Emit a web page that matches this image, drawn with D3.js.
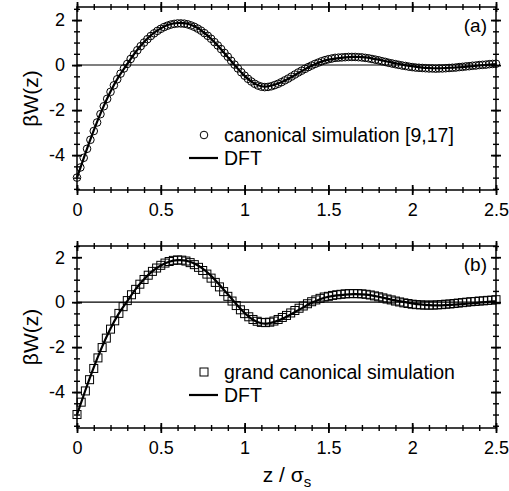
<!DOCTYPE html>
<html>
<head>
<meta charset="utf-8">
<script src="https://cdn.jsdelivr.net/npm/d3@7"></script>
<style>
  body { margin: 0; background: #fff; }
  svg { display: block; font-family: "Liberation Sans", Arial, sans-serif; }
  .tick text { font-size: 18px; fill: #000; }
</style>
</head>
<body>
<div id="chart"></div>
<script>
// DFT curve, z step 0.05
var dftZ = [0, 0.05, 0.1, 0.15, 0.2, 0.25, 0.3, 0.35, 0.4, 0.45, 0.5, 0.55, 0.6, 0.65, 0.7, 0.75, 0.8, 0.85, 0.9, 0.95,
  1, 1.05, 1.1, 1.15, 1.2, 1.25, 1.3, 1.35, 1.4, 1.45, 1.5, 1.55, 1.6, 1.65, 1.7, 1.75, 1.8, 1.85, 1.9, 1.95,
  2, 2.05, 2.1, 2.15, 2.2, 2.25, 2.3, 2.35, 2.4, 2.45, 2.5];
var dftW = [-5.00, -3.92, -2.90, -1.98, -1.17, -0.50, 0.05, 0.58, 1.02, 1.38, 1.63, 1.80, 1.87, 1.85, 1.72, 1.49, 1.17, 0.78, 0.35, -0.08,
  -0.48, -0.78, -0.94, -0.93, -0.82, -0.65, -0.44, -0.23, -0.03, 0.13, 0.24, 0.30, 0.34, 0.36, 0.35, 0.31, 0.24, 0.16, 0.08, 0.01,
  -0.05, -0.10, -0.13, -0.14, -0.13, -0.11, -0.09, -0.06, -0.02, 0.01, 0.04];

// canonical simulation (panel a)
var canZ = [0, 0.02, 0.04, 0.06, 0.08, 0.1, 0.12, 0.14, 0.16, 0.18, 0.2, 0.22, 0.24, 0.26, 0.28, 0.3, 0.32, 0.34, 0.36, 0.38,
  0.4, 0.42, 0.44, 0.46, 0.48, 0.5, 0.52, 0.54, 0.56, 0.58, 0.6, 0.62, 0.64, 0.66, 0.68, 0.7, 0.72, 0.74, 0.76, 0.78,
  0.8, 0.82, 0.84, 0.86, 0.88, 0.9, 0.92, 0.94, 0.96, 0.98, 1, 1.02, 1.04, 1.06, 1.08, 1.1, 1.12, 1.14, 1.16, 1.18,
  1.2, 1.22, 1.24, 1.26, 1.28, 1.3, 1.32, 1.34, 1.36, 1.38, 1.4, 1.42, 1.44, 1.46, 1.48, 1.5, 1.52, 1.54, 1.56, 1.58,
  1.6, 1.62, 1.64, 1.66, 1.68, 1.7, 1.72, 1.74, 1.76, 1.78, 1.8, 1.82, 1.84, 1.86, 1.88, 1.9, 1.92, 1.94, 1.96, 1.98,
  2, 2.02, 2.04, 2.06, 2.08, 2.1, 2.12, 2.14, 2.16, 2.18, 2.2, 2.22, 2.24, 2.26, 2.28, 2.3, 2.32, 2.34, 2.36, 2.38,
  2.4, 2.42, 2.44, 2.46, 2.48, 2.5];
var canW = [-5.00, -4.55, -4.12, -3.72, -3.32, -2.93, -2.55, -2.18, -1.83, -1.50, -1.19, -0.90, -0.63, -0.38, -0.15, 0.05, 0.27, 0.47, 0.66, 0.84,
  1.00, 1.15, 1.29, 1.41, 1.52, 1.61, 1.69, 1.75, 1.80, 1.83, 1.85, 1.85, 1.84, 1.81, 1.76, 1.70, 1.62, 1.53, 1.42, 1.30,
  1.17, 1.02, 0.87, 0.71, 0.54, 0.37, 0.19, 0.02, -0.15, -0.32, -0.47, -0.61, -0.73, -0.83, -0.91, -0.96, -0.98, -0.97, -0.94, -0.89,
  -0.83, -0.76, -0.68, -0.60, -0.51, -0.42, -0.33, -0.25, -0.17, -0.09, -0.02, 0.05, 0.11, 0.17, 0.22, 0.26, 0.29, 0.32, 0.33, 0.34,
  0.35, 0.36, 0.36, 0.36, 0.35, 0.34, 0.32, 0.30, 0.27, 0.24, 0.21, 0.17, 0.14, 0.10, 0.07, 0.04, 0.01, -0.02, -0.04, -0.07,
  -0.09, -0.11, -0.12, -0.13, -0.14, -0.15, -0.15, -0.16, -0.15, -0.15, -0.14, -0.13, -0.12, -0.11, -0.09, -0.08, -0.06, -0.05, -0.03, -0.02,
  0.00, 0.01, 0.02, 0.04, 0.05, 0.06];

// grand canonical simulation (panel b)
var gcZ = [0, 0.025, 0.05, 0.075, 0.1, 0.125, 0.15, 0.175, 0.2, 0.225, 0.25, 0.275, 0.3, 0.325, 0.35, 0.375, 0.4, 0.425, 0.45, 0.475,
  0.5, 0.525, 0.55, 0.575, 0.6, 0.625, 0.65, 0.675, 0.7, 0.725, 0.75, 0.775, 0.8, 0.825, 0.85, 0.875, 0.9, 0.925, 0.95, 0.975,
  1, 1.025, 1.05, 1.075, 1.1, 1.125, 1.15, 1.175, 1.2, 1.225, 1.25, 1.275, 1.3, 1.325, 1.35, 1.375, 1.4, 1.425, 1.45, 1.475,
  1.5, 1.525, 1.55, 1.575, 1.6, 1.625, 1.65, 1.675, 1.7, 1.725, 1.75, 1.775, 1.8, 1.825, 1.85, 1.875, 1.9, 1.925, 1.95, 1.975,
  2, 2.025, 2.05, 2.075, 2.1, 2.125, 2.15, 2.175, 2.2, 2.225, 2.25, 2.275, 2.3, 2.325, 2.35, 2.375, 2.4, 2.425, 2.45, 2.475, 2.5];
var gcW = [-5.00, -4.45, -3.95, -3.45, -2.95, -2.48, -2.02, -1.60, -1.20, -0.83, -0.50, -0.20, 0.07, 0.33, 0.57, 0.80, 1.01, 1.20, 1.37, 1.52,
  1.64, 1.74, 1.81, 1.86, 1.88, 1.87, 1.83, 1.76, 1.67, 1.55, 1.41, 1.25, 1.07, 0.88, 0.68, 0.47, 0.26, 0.05, -0.15, -0.34,
  -0.51, -0.65, -0.77, -0.85, -0.90, -0.91, -0.89, -0.84, -0.77, -0.68, -0.59, -0.48, -0.37, -0.27, -0.17, -0.07, 0.02, 0.10, 0.17, 0.23,
  0.26, 0.30, 0.33, 0.35, 0.37, 0.38, 0.38, 0.38, 0.37, 0.35, 0.32, 0.28, 0.24, 0.19, 0.14, 0.10, 0.05, 0.01, -0.03, -0.06,
  -0.09, -0.11, -0.12, -0.13, -0.13, -0.13, -0.12, -0.11, -0.09, -0.08, -0.06, -0.04, -0.02, 0.00, 0.02, 0.03, 0.05, 0.06, 0.08, 0.09, 0.11];

var xTicks = [0, 0.5, 1, 1.5, 2, 2.5];
var yTicks = [-4, -2, 0, 2];

var width = 509, height = 491;
var left = 77, right = 496;

var svg = d3.select("#chart").append("svg")
    .attr("width", width)
    .attr("height", height);

var xScale = d3.scaleLinear().domain([0, 2.5]).range([left, right]);

function zip(zs, ws) {
    return zs.map(function(z, i) { return { z: z, w: ws[i] }; });
}

// ticks that cross the frame line
function crossTicks(g, inner, side) {
    g.selectAll(".tick line").each(function() {
        var l = d3.select(this);
        if (side == "x") l.attr("y1", inner); else l.attr("x1", inner);
    });
}

function drawPanel(opt) {
    var top = opt.top, bottom = opt.bottom;
    var yScale = d3.scaleLinear().domain(opt.yDomain).range([bottom, top]);
    var g = svg.append("g");

    var xMinor = d3.range(0, 2.5001, 0.1);
    var yMinor = d3.range(-5.5, 2.5001, 0.5);

    // minor ticks
    var axes = [
        [d3.axisBottom(xScale), "translate(0," + bottom + ")", "x", -3, 3],
        [d3.axisTop(xScale), "translate(0," + top + ")", "x", 3, 3],
        [d3.axisLeft(yScale), "translate(" + left + ",0)", "y", 3, 3],
        [d3.axisRight(yScale), "translate(" + right + ",0)", "y", -3, 3]
    ];
    axes.forEach(function(a) {
        var ax = a[0].tickValues(a[2] == "x" ? xMinor : yMinor).tickSize(a[4]).tickFormat("");
        var ag = g.append("g").attr("transform", a[1]).call(ax);
        ag.select(".domain").remove();
        ag.selectAll(".tick line").attr("stroke-width", 1.4);
        crossTicks(ag, a[3], a[2]);
    });

    // major ticks
    var majors = [
        [d3.axisBottom(xScale).tickValues(xTicks).tickFormat(function(d) { return d; }), "translate(0," + bottom + ")", "x", -5],
        [d3.axisTop(xScale).tickValues(xTicks).tickFormat(""), "translate(0," + top + ")", "x", 5],
        [d3.axisLeft(yScale).tickValues(yTicks).tickFormat(function(d) { return d; }), "translate(" + left + ",0)", "y", 5],
        [d3.axisRight(yScale).tickValues(yTicks).tickFormat(""), "translate(" + right + ",0)", "y", -5]
    ];
    majors.forEach(function(a) {
        var ax = a[0].tickSize(5).tickPadding(a[2] == "x" ? 8 : 7);
        var ag = g.append("g").attr("transform", a[1]).call(ax);
        ag.select(".domain").remove();
        ag.selectAll(".tick line").attr("stroke-width", 1.8);
        ag.selectAll(".tick text").attr("font-family", "Liberation Sans, Arial, sans-serif");
        crossTicks(ag, a[3], a[2]);
    });

    // frame
    g.append("rect")
        .attr("x", left).attr("y", top)
        .attr("width", right - left).attr("height", bottom - top)
        .attr("fill", "none").attr("stroke", "#000").attr("stroke-width", 1.5);

    // zero line
    g.append("line")
        .attr("x1", left).attr("x2", right)
        .attr("y1", yScale(0)).attr("y2", yScale(0))
        .attr("stroke", "#000").attr("stroke-width", 1.1);

    var sim = zip(opt.simZ, opt.simW);
    if (opt.marker == "circle") {
        g.selectAll("circle.pt").data(sim).enter().append("circle")
            .attr("class", "pt")
            .attr("cx", function(d) { return xScale(d.z); })
            .attr("cy", function(d) { return yScale(d.w); })
            .attr("r", 3.8)
            .attr("fill", "none").attr("stroke", "#000").attr("stroke-width", 1);
    } else {
        g.selectAll("rect.pt").data(sim).enter().append("rect")
            .attr("class", "pt")
            .attr("x", function(d) { return xScale(d.z) - 4; })
            .attr("y", function(d) { return yScale(d.w) - 4; })
            .attr("width", 8).attr("height", 8)
            .attr("fill", "none").attr("stroke", "#000").attr("stroke-width", 1);
    }

    var line = d3.line()
        .x(function(d) { return xScale(d.z); })
        .y(function(d) { return yScale(d.w); })
        .curve(d3.curveNatural);

    g.append("path")
        .datum(zip(dftZ, dftW))
        .attr("d", line)
        .attr("fill", "none").attr("stroke", "#000").attr("stroke-width", 2.2);

    // panel letter
    g.append("text")
        .attr("x", 487).attr("y", top + 25)
        .attr("text-anchor", "end")
        .attr("font-size", 19)
        .text(opt.letter);

    // y label
    g.append("text")
        .attr("transform", "translate(38," + ((top + bottom) / 2) + ") rotate(-90)")
        .attr("text-anchor", "middle")
        .attr("font-size", 21)
        .text("\u03B2W(z)");

    // legend
    var ly = opt.legendY;
    if (opt.marker == "circle") {
        g.append("circle").attr("cx", 204).attr("cy", ly).attr("r", 3.8)
            .attr("fill", "none").attr("stroke", "#000").attr("stroke-width", 1);
    } else {
        g.append("rect").attr("x", 200).attr("y", ly - 4).attr("width", 8).attr("height", 8)
            .attr("fill", "none").attr("stroke", "#000").attr("stroke-width", 1);
    }
    g.append("text").attr("x", 224).attr("y", ly + 7).attr("font-size", 19.5).text(opt.simLabel);
    g.append("line").attr("x1", 189).attr("x2", 218).attr("y1", ly + 23).attr("y2", ly + 23)
        .attr("stroke", "#000").attr("stroke-width", 2.2);
    g.append("text").attr("x", 224).attr("y", ly + 30).attr("font-size", 19.5).text("DFT");
}

drawPanel({
    top: 7, bottom: 190, yDomain: [-5.55, 2.58],
    simZ: canZ, simW: canW, marker: "circle",
    letter: "(a)", legendY: 135, simLabel: "canonical simulation [9,17]"
});

drawPanel({
    top: 246, bottom: 428, yDomain: [-5.6, 2.5],
    simZ: gcZ, simW: gcW, marker: "square",
    letter: "(b)", legendY: 372, simLabel: "grand canonical simulation"
});

// x axis title
var xt = svg.append("text")
    .attr("x", 287).attr("y", 482)
    .attr("text-anchor", "middle")
    .attr("font-size", 21);
xt.append("tspan").text("z / \u03C3");
xt.append("tspan").attr("dy", 5).attr("font-size", 15).text("s");
</script>
</body>
</html>
